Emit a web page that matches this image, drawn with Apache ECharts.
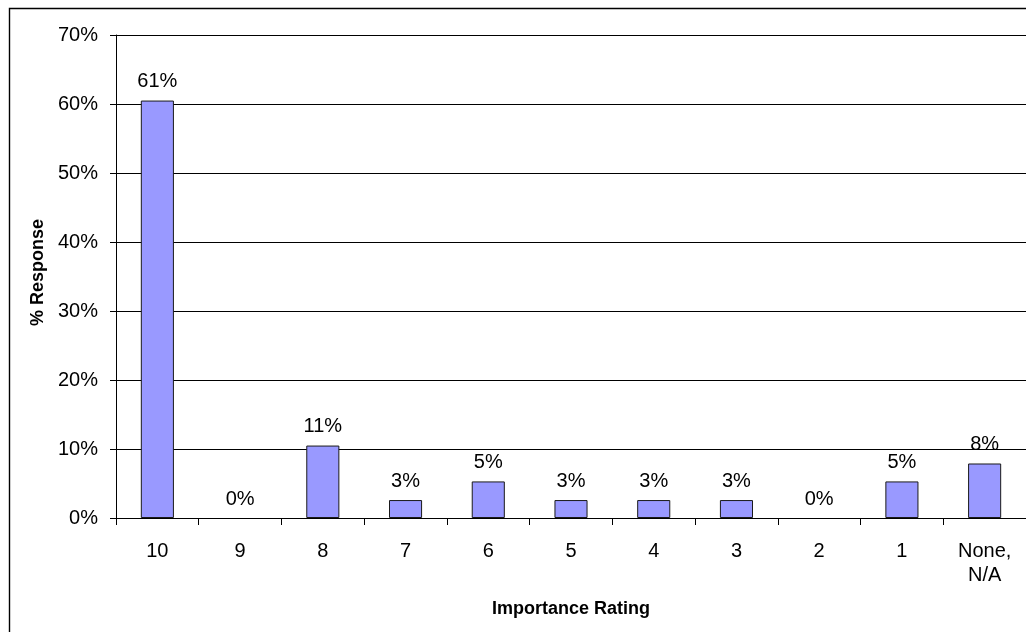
<!DOCTYPE html>
<html>
<head>
<meta charset="utf-8">
<script src="https://cdn.jsdelivr.net/npm/echarts@6/dist/echarts.min.js"></script>
<style>
html,body{margin:0;padding:0;background:#fff;}
#c{width:1026px;height:632px;}
</style>
</head>
<body>
<div id="c"></div>
<script>
const categories = ['10', '9', '8', '7', '6', '5', '4', '3', '2', '1', 'None,\nN/A'];
const responsePct = [60.5, 0, 10.5, 2.6, 5.3, 2.6, 2.6, 2.6, 0, 5.3, 7.9];
const yTicks = [0, 10, 20, 30, 40, 50, 60, 70];
const xAxisTitle = 'Importance Rating';
const yAxisTitle = '% Response';

const FONT = '"Liberation Sans", Arial, sans-serif';
const chart = echarts.init(document.getElementById('c'));
chart.setOption({
  animation: false,
  backgroundColor: '#fff',
  textStyle: { fontFamily: FONT },
  graphic: [{
    type: 'rect',
    shape: { x: 9.5, y: 8.5, width: 1100, height: 700 },
    style: { fill: 'none', stroke: '#000', lineWidth: 1.4 },
    silent: true, z: -1
  }],
  grid: { left: 116, top: 35, width: 913, height: 483, containLabel: false },
  xAxis: {
    type: 'category',
    data: categories,
    boundaryGap: true,
    name: xAxisTitle,
    nameLocation: 'middle',
    nameGap: 82,
    nameTextStyle: { fontFamily: FONT, fontSize: 18, fontWeight: 'bold', color: '#000' },
    axisLine: { lineStyle: { color: '#000', width: 1 } },
    axisTick: { show: true, alignWithLabel: false, length: 7, lineStyle: { color: '#000' } },
    axisLabel: { color: '#000', fontFamily: FONT, fontSize: 20, margin: 21, lineHeight: 24, interval: 0 }
  },
  yAxis: {
    type: 'value',
    min: yTicks[0],
    max: yTicks[yTicks.length - 1],
    interval: 10,
    name: yAxisTitle,
    nameLocation: 'middle',
    nameGap: 68,
    nameRotate: 90,
    nameTextStyle: { fontFamily: FONT, fontSize: 18, fontWeight: 'bold', color: '#000', padding: [0, 0, 0, 8] },
    axisLine: { show: true, lineStyle: { color: '#000', width: 1 } },
    axisTick: { show: true, length: 6, lineStyle: { color: '#000' } },
    axisLabel: { color: '#000', fontFamily: FONT, fontSize: 20, margin: 18, formatter: v => v + '%' },
    splitLine: { show: true, lineStyle: { color: '#000', width: 1 } }
  },
  series: [{
    type: 'bar',
    data: responsePct.map(v => v === 0 ? { value: v, itemStyle: { borderWidth: 0 } } : v),
    barWidth: '40%',
    itemStyle: { color: '#9999FF', borderColor: '#1a1a1a', borderWidth: 1 },
    label: {
      show: true,
      position: 'top',
      distance: 9,
      color: '#000',
      fontFamily: FONT,
      fontSize: 20,
      formatter: p => Math.round(p.value) + '%'
    }
  }]
});
</script>
</body>
</html>
